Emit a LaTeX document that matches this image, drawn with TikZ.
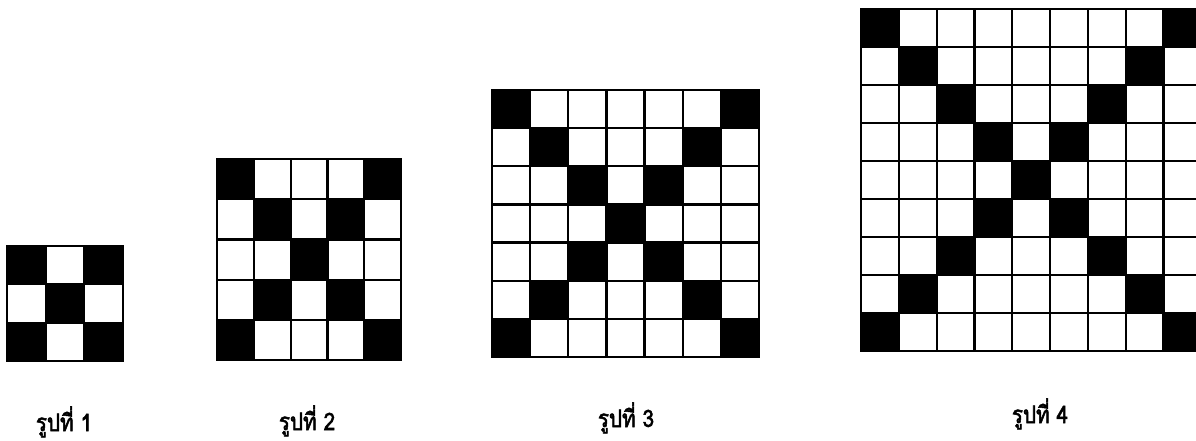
\documentclass[tikz,border=0pt]{standalone}
\usepackage{fontspec}
\newfontfamily\thaifont[Script=Thai, FakeBold=2.2, FakeStretch=0.86]{Loma}
\usepackage{tikz}
\usetikzlibrary{positioning}

% one pattern square: x, y (top left), cell width, cell height, size
\newcommand{\drawpattern}[5]{%
  \pgfmathtruncatemacro{\last}{#5-1}
  \foreach \r in {0,...,\last} {
    \foreach \c in {0,...,\last} {
      \pgfmathtruncatemacro{\anti}{\r+\c}
      \ifnum\r=\c
        \fill (#1+\c*#3,#2+\r*#4) rectangle ++(#3,#4);
      \else\ifnum\anti=\last
        \fill (#1+\c*#3,#2+\r*#4) rectangle ++(#3,#4);
      \fi\fi
    }
  }
  \foreach \k in {0,...,#5} {
    \draw[gridline] (#1+\k*#3,#2) -- ++(0,#5*#4);
    \draw[gridline] (#1,#2+\k*#4) -- ++(#5*#3,0);
  }
}

\begin{document}
\begin{tikzpicture}[
  x=1pt, y=-1pt,
  gridline/.style={line width=2.2pt, line cap=rect},
  caption/.style={font=\thaifont\fontsize{24}{28}\selectfont, anchor=base, inner sep=0pt}
]
\useasboundingbox (0,0) rectangle (1196,440);

\drawpattern{7}{246}{38.67}{38.33}{3}
\drawpattern{217}{159}{36.8}{40.2}{5}
\drawpattern{492}{90}{38.14}{38.14}{7}
\drawpattern{861}{9}{37.8}{38}{9}

\node[caption] (cap1) at (64,431) {รูปที่ 1};
\node[caption] (cap2) at (307,430) {รูปที่ 2};
\node[caption] (cap3) at (626,427) {รูปที่ 3};
\node[caption] (cap4) at (1040,423) {รูปที่ 4};
\end{tikzpicture}
\end{document}
